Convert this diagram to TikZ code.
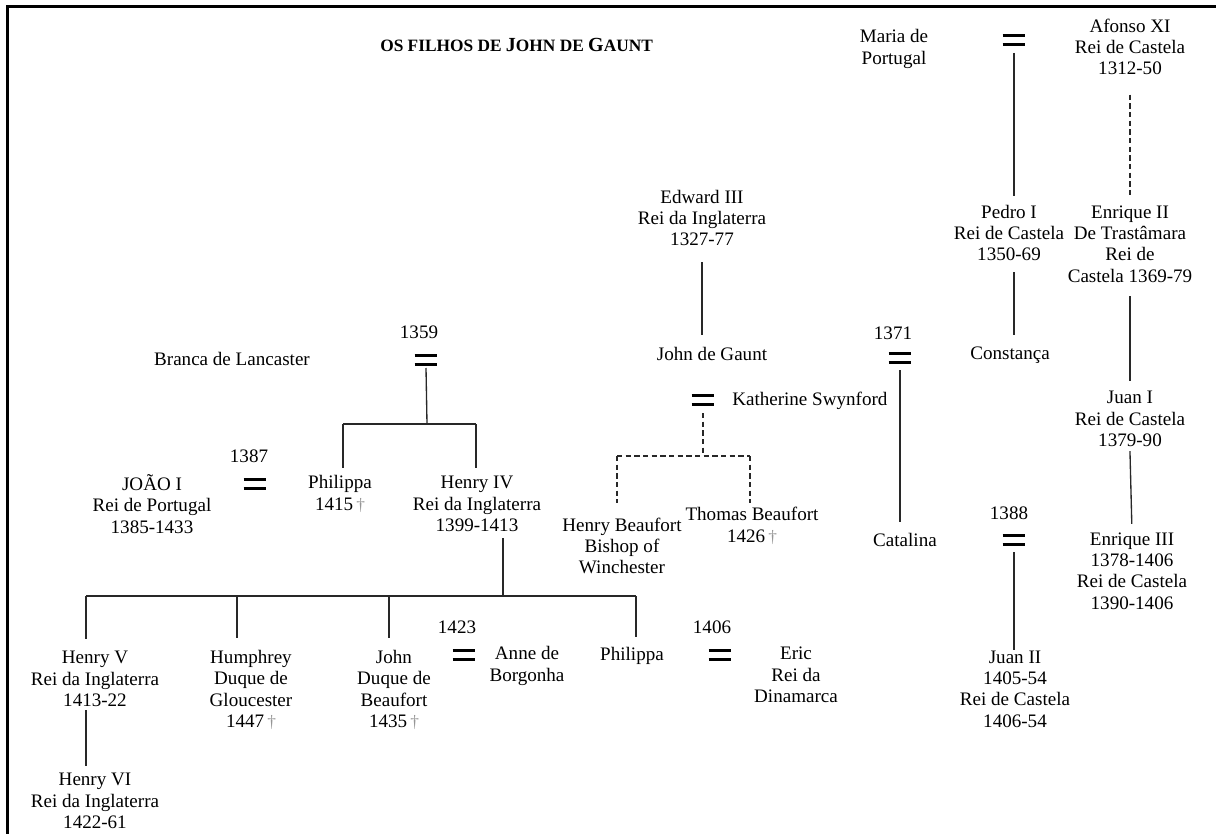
\documentclass[tikz,border=0pt]{standalone}
\usepackage{fontspec}
\setmainfont{Liberation Serif}
\usetikzlibrary{calc}
\definecolor{dagcol}{RGB}{150,150,150}
\definecolor{linecol}{RGB}{40,40,40}
% small grey dagger after a year of death
\newcommand{\obitmark}{\,{\color{dagcol}\fontsize{13}{13}\selectfont †}}
% the double bar that marks a marriage
\newcommand{\wedbars}{\vbox{\hrule width 17pt height 2.5pt\vskip 4pt\hrule width 17pt height 2.5pt}}

\begin{document}
\begin{tikzpicture}[x=0.75pt,y=-0.75pt,
  every node/.style={inner sep=0pt},
  person/.style={align=center, font=\fontsize{14.3}{16}\selectfont,
    execute at begin node=\strut, execute at end node=\strut},
  year/.style={font=\fontsize{14.3}{16}\selectfont},
  link/.style={line width=1pt, draw=linecol},
  kin/.style={link, dash pattern=on 4pt off 2.5pt},
]
\path[use as bounding box, fill=white] (0,0) rectangle (1216,834);

% frame
\draw[line width=2.25pt] (7.5,834) -- (7.5,6.5) -- (1216,6.5);

% title
\node[anchor=west, font=\bfseries\fontsize{13}{15}\selectfont] (title) at (380,45)
  {OS FILHOS DE {\fontsize{15}{15}\selectfont J}OHN DE {\fontsize{15}{15}\selectfont G}AUNT};

% ---- Castile ----
\node[person] (maria) at (894,50) {Maria de\\Portugal};
\node (wedMP) at (1014,40) {\wedbars};
\node[person] (afonso) at (1130,50) {Afonso XI\\Rei de Castela\\1312-50};
\node[person] (pedro) at (1009,236) {Pedro I\\Rei de Castela\\1350-69};
\node[person] (enrique2) at (1130,247) {Enrique II\\De Trastâmara\\Rei de\\Castela 1369-79};
\node[person] (constanca) at (1010,355) {Constança};
\node[person] (juan1) at (1130,422) {Juan I\\Rei de Castela\\1379-90};
\node[person] (enrique3) at (1132,574) {Enrique III\\1378-1406\\Rei de Castela\\1390-1406};
\node[year] (y1388) at (1009,513) {1388};
\node (wedJC) at (1014,540) {\wedbars};
\node[person] (juan2) at (1015,692) {Juan II\\1405-54\\Rei de Castela\\1406-54};

% ---- John of Gaunt ----
\node[person] (edward) at (702,221) {Edward III\\Rei da Inglaterra\\1327-77};
\node[person] (gaunt) at (712,356) {John de Gaunt};
\node[year] (y1371) at (893,333) {1371};
\node (wedGC) at (900,358) {\wedbars};
\node (wedGK) at (703,400) {\wedbars};
\node[person, anchor=west] (katherine) at (732,401) {Katherine Swynford};
\node[person] (hbeaufort) at (622,549) {Henry Beaufort\\Bishop of\\Winchester};
\node[person] (tbeaufort) at (752,528) {Thomas Beaufort\\1426\obitmark};
\node[person] (catalina) at (905,542) {Catalina};

% ---- Lancaster ----
\node[person] (branca) at (232,361) {Branca de Lancaster};
\node[year] (y1359) at (419,332) {1359};
\node (wedGB) at (426,360) {\wedbars};
\node[year] (y1387) at (249,456) {1387};
\node (wedJP) at (255,484) {\wedbars};
\node[person] (joao) at (152,507) {JOÃO I\\Rei de Portugal\\1385-1433};
\node[person] (philippa) at (340,496) {Philippa\\1415\obitmark};
\node[person] (henry4) at (477,507) {Henry IV\\Rei da Inglaterra\\1399-1413};
\node[person] (henry5) at (95,682) {Henry V\\Rei da Inglaterra\\1413-22};
\node[person] (henry6) at (95,804) {Henry VI\\Rei da Inglaterra\\1422-61};
\node[person] (humphrey) at (251,692) {Humphrey\\Duque de\\Gloucester\\1447\obitmark};
\node[person] (johnb) at (394,692) {John\\Duque de\\Beaufort\\1435\obitmark};
\node[year] (y1423) at (457,627) {1423};
\node (wedJA) at (464,655) {\wedbars};
\node[person] (anne) at (527,667) {Anne de\\Borgonha};
\node[person] (philippa2) at (632,656) {Philippa};
\node[year] (y1406) at (712,627) {1406};
\node (wedPE) at (720,655) {\wedbars};
\node[person] (eric) at (796,678) {Eric\\Rei da\\Dinamarca};

% ---- descent lines, Castile ----
\draw[link, shorten >=6.75pt] (wedMP) ++(0,13) -- (wedMP |- pedro.north);
\draw[kin, shorten <=9.75pt, shorten >=7.7pt] (afonso.south) -- (enrique2.north);
\draw[link, shorten <=3.75pt, shorten >=7pt] (pedro.south -| wedMP) -- (constanca.north -| wedMP);
\draw[link, shorten <=5.5pt, shorten >=7.5pt] (enrique2.south) -- (juan1.north);
\draw[link, shorten <=-1.5pt, shorten >=6.2pt] (juan1.south) -- (enrique3.north);
\draw[link] (wedJC) ++(0,12) -- (wedJC |- juan2.north);

% ---- descent lines, Gaunt ----
\draw[link, shorten <=7.5pt, shorten >=7.5pt] (edward.south) -- (edward.south |- gaunt.north);
\draw[link, shorten >=7pt] (wedGC) ++(0,12) -- (wedGC |- catalina.north);

\coordinate (gkKids) at (703,456);
\coordinate (gkL) at (617,456);
\coordinate (gkR) at (750,456);
\draw[kin] (wedGK) ++(0,13) -- (gkKids);
\draw[kin] (gkL) -- (gkR);
\draw[kin, shorten >=10.5pt] (gkL) -- (gkL |- hbeaufort.north);
\draw[kin, shorten >=2.8pt] (gkR) -- (gkR |- tbeaufort.north);

% ---- descent lines, Lancaster ----
\coordinate (gbKids) at (427,424);
\coordinate (gbL) at (343,424);
\coordinate (gbR) at (476,424);
\draw[link] (wedGB) ++(0,8) -- (gbKids);
\draw[link] (gbL) -- (gbR);
\draw[link, shorten >=5.8pt] (gbL) -- (gbL |- philippa.north);
\draw[link, shorten >=6pt] (gbR) -- (gbR |- henry4.north);

\coordinate (h4Kids) at (503,596);
\coordinate (k1) at (86,596);
\coordinate (k2) at (237,596);
\coordinate (k3) at (389,596);
\coordinate (k4) at (636,596);
\draw[link] (henry4.south -| h4Kids) -- (h4Kids);
\draw[link] (k1) -- (k4);
\draw[link, shorten >=9pt] (k1) -- (k1 |- henry5.north);
\draw[link, shorten >=9.2pt] (k2) -- (k2 |- humphrey.north);
\draw[link, shorten >=9.2pt] (k3) -- (k3 |- johnb.north);
\draw[link, shorten >=6.2pt] (k4) -- (k4 |- philippa2.north);
\draw[link, shorten <=-2pt, shorten >=5pt] (henry5.south -| k1) -- (henry6.north -| k1);
\end{tikzpicture}
\end{document}
